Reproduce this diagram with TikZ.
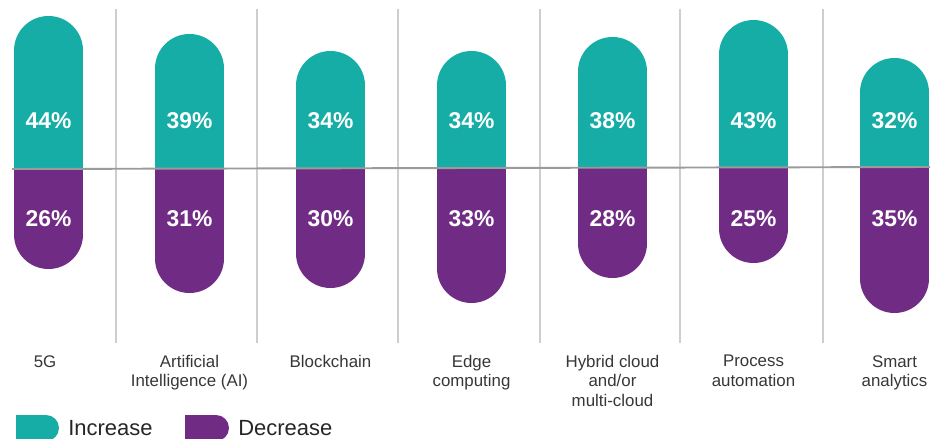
\documentclass[tikz,border=0pt]{standalone}
\usepackage{fontspec}
\setmainfont{Liberation Sans}
\usepackage{tikz}
\usetikzlibrary{positioning}
\usepackage{xcolor}
\definecolor{incteal}{RGB}{21,173,166}
\definecolor{decpurple}{RGB}{112,44,132}
\definecolor{gridgray}{RGB}{206,206,206}
\definecolor{axisgray}{RGB}{155,155,155}
\definecolor{labelgray}{RGB}{55,55,55}

\begin{document}
\begin{tikzpicture}[
    x=0.02cm, y=-0.02cm,
    inc/.style={fill=incteal},
    dec/.style={fill=decpurple},
    grid/.style={draw=gridgray, line width=0.6pt},
    axis/.style={draw=axisgray, line width=1.1pt},
    pct/.style={text=white, font=\fontsize{13}{15}\selectfont\bfseries, inner sep=0pt},
    cat/.style={text=labelgray, font=\fontsize{9.6}{11}\selectfont, align=center, anchor=north, inner sep=0pt},
    legend/.style={text=black!85, font=\fontsize{12.5}{14}\selectfont, anchor=base west, inner sep=0pt}
]
\useasboundingbox (0,0) rectangle (943,439);

% === Column separators ===
\draw[grid] (116,9) -- (116,343);
\draw[grid] (257,9) -- (257,343);
\draw[grid] (398,9) -- (398,343);
\draw[grid] (540,9) -- (540,343);
\draw[grid] (680,9) -- (680,343);
\draw[grid] (823,9) -- (823,343);

% === Increase (top) ===
\fill[inc] (14,168) rectangle (83,50.5);   \fill[inc] (48.5,50.5) circle (34.5);
\fill[inc] (155,168) rectangle (224,68.5); \fill[inc] (189.5,68.5) circle (34.5);
\fill[inc] (296,168) rectangle (365,85.5); \fill[inc] (330.5,85.5) circle (34.5);
\fill[inc] (437,168) rectangle (506,85.5); \fill[inc] (471.5,85.5) circle (34.5);
\fill[inc] (578,168) rectangle (647,71.5); \fill[inc] (612.5,71.5) circle (34.5);
\fill[inc] (719,168) rectangle (788,54.5); \fill[inc] (753.5,54.5) circle (34.5);
\fill[inc] (860,168) rectangle (929,92.5); \fill[inc] (894.5,92.5) circle (34.5);

% === Decrease (bottom) ===
\fill[dec] (14,168) rectangle (83,234.5);   \fill[dec] (48.5,234.5) circle (34.5);
\fill[dec] (155,168) rectangle (224,258.5); \fill[dec] (189.5,258.5) circle (34.5);
\fill[dec] (296,168) rectangle (365,253.5); \fill[dec] (330.5,253.5) circle (34.5);
\fill[dec] (437,168) rectangle (506,268.5); \fill[dec] (471.5,268.5) circle (34.5);
\fill[dec] (578,168) rectangle (647,243.5); \fill[dec] (612.5,243.5) circle (34.5);
\fill[dec] (719,168) rectangle (788,228.5); \fill[dec] (753.5,228.5) circle (34.5);
\fill[dec] (860,168) rectangle (929,278.5); \fill[dec] (894.5,278.5) circle (34.5);

% Zero line
\draw[axis] (12,169) -- (930,167);

% === Percentages ===
\node[pct] (inc5g) at (48.5,121) {44\%};
\node[pct] (incai) at (189.5,121) {39\%};
\node[pct] (incbc) at (330.5,121) {34\%};
\node[pct] (incedge) at (471.5,121) {34\%};
\node[pct] (inchyb) at (612.5,121) {38\%};
\node[pct] (incproc) at (753.5,121) {43\%};
\node[pct] (incsmart) at (894.5,121) {32\%};

\node[pct] (dec5g) at (48.5,219) {26\%};
\node[pct] (decai) at (189.5,219) {31\%};
\node[pct] (decbc) at (330.5,219) {30\%};
\node[pct] (decedge) at (471.5,219) {33\%};
\node[pct] (dechyb) at (612.5,219) {28\%};
\node[pct] (decproc) at (753.5,219) {25\%};
\node[pct] (decsmart) at (894.5,219) {35\%};

% === Categories ===
\node[cat] (cat5g) at (45,355) {5G};
\node[cat] (catai) at (189.5,355) {Artificial\\Intelligence (AI)};
\node[cat] (catbc) at (330.5,355) {Blockchain};
\node[cat] (catedge) at (471.5,355) {Edge\\computing};
\node[cat] (cathyb) at (612.5,355) {Hybrid cloud\\and/or\\multi-cloud};
\node[cat] (catproc) at (753.5,355) {Process\\automation};
\node[cat] (catsmart) at (894.5,355) {Smart\\analytics};

% === Legend ===
\fill[inc] (16,415) rectangle (46,441); \fill[inc] (46,428) circle (13);
\node[legend] (leginc) at (68,435) {Increase};
\fill[dec] (185,415) rectangle (216,441); \fill[dec] (216,428) circle (13);
\node[legend] (legdec) at (238,435) {Decrease};

\end{tikzpicture}
\end{document}
